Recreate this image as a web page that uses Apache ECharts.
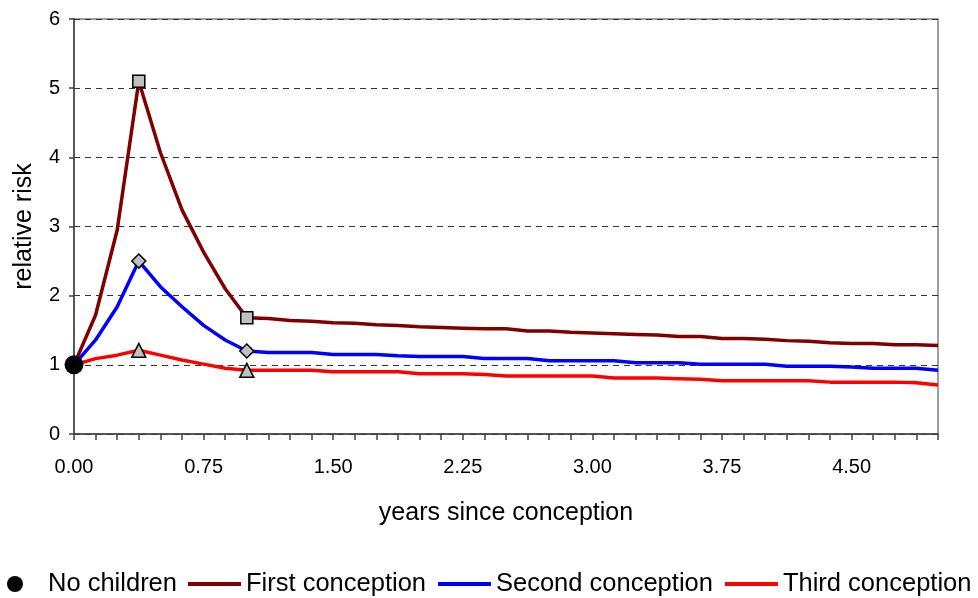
<!DOCTYPE html>
<html>
<head>
<meta charset="utf-8">
<script src="https://cdn.jsdelivr.net/npm/echarts@6/dist/echarts.min.js"></script>
<style>
html,body{margin:0;padding:0;background:#fff;}
#chart{width:978px;height:598px;}
</style>
</head>
<body>
<div id="chart"></div>
<script>
// years since conception (category positions)
var years = [0, 0.125, 0.25, 0.375, 0.5, 0.625, 0.75, 0.875, 1, 1.125,
  1.25, 1.375, 1.5, 1.625, 1.75, 1.875, 2, 2.125, 2.25, 2.375,
  2.5, 2.625, 2.75, 2.875, 3, 3.125, 3.25, 3.375, 3.5, 3.625,
  3.75, 3.875, 4, 4.125, 4.25, 4.375, 4.5, 4.625, 4.75, 4.875, 5];

var firstConception = [1.00, 1.72, 2.95, 5.10, 4.07, 3.24, 2.63, 2.10, 1.68, 1.67,
  1.64, 1.63, 1.61, 1.60, 1.58, 1.57, 1.55, 1.54, 1.53, 1.52,
  1.52, 1.49, 1.49, 1.47, 1.46, 1.45, 1.44, 1.43, 1.41, 1.41,
  1.38, 1.38, 1.37, 1.35, 1.34, 1.32, 1.31, 1.31, 1.29, 1.29, 1.28];

var secondConception = [1.00, 1.36, 1.84, 2.50, 2.13, 1.84, 1.57, 1.36, 1.20, 1.18,
  1.18, 1.18, 1.15, 1.15, 1.15, 1.13, 1.12, 1.12, 1.12, 1.09,
  1.09, 1.09, 1.06, 1.06, 1.06, 1.06, 1.03, 1.03, 1.03, 1.01,
  1.01, 1.01, 1.01, 0.98, 0.98, 0.98, 0.97, 0.95, 0.95, 0.95, 0.92];

var thirdConception = [1.00, 1.09, 1.14, 1.21, 1.14, 1.07, 1.01, 0.95, 0.92, 0.92,
  0.92, 0.92, 0.90, 0.90, 0.90, 0.90, 0.87, 0.87, 0.87, 0.86,
  0.84, 0.84, 0.84, 0.84, 0.84, 0.81, 0.81, 0.81, 0.80, 0.79,
  0.77, 0.77, 0.77, 0.77, 0.77, 0.75, 0.75, 0.75, 0.75, 0.74, 0.71];

var noChildren = [1.00];          // value at year 0
var markerIndices = [3, 8];       // points carrying a marker
var yTicks = [0, 1, 2, 3, 4, 5, 6];

var FONT = '"Liberation Sans", Arial, sans-serif';

function markerSize(size) {
  return function (val, params) {
    return markerIndices.indexOf(params.dataIndex) >= 0 ? size : 0;
  };
}

function lineSeries(name, data, color, symbol, size) {
  return {
    name: name,
    type: 'line',
    data: data,
    smooth: false,
    symbol: symbol,
    symbolSize: markerSize(size),
    showSymbol: true,
    showAllSymbol: true,
    lineStyle: { color: color, width: 3.5 },
    itemStyle: { color: '#C0C0C0', borderColor: '#000', borderWidth: 1.5 },
    emphasis: { disabled: true },
    animation: false,
    z: 2
  };
}

function legendLine(name, color) {
  return { name: name, icon: 'rect', itemStyle: { color: color, borderWidth: 0 } };
}

var chart = echarts.init(document.getElementById('chart'), null, { renderer: 'canvas' });

chart.setOption({
  backgroundColor: '#ffffff',
  animation: false,
  grid: {
    left: 74, right: 40, top: 19, bottom: 164,
    show: true, borderColor: '#808080', borderWidth: 1.5, backgroundColor: 'transparent'
  },
  legend: [
    {
      data: [{ name: 'No children', icon: 'circle', itemStyle: { color: '#000', opacity: 1 } }],
      left: 2, top: 566,
      itemWidth: 16, itemHeight: 16,
      textStyle: { fontFamily: FONT, fontSize: 25.5, color: '#000', padding: [0, 0, 0, 20] },
      selectedMode: false
    },
    {
      data: [
        legendLine('First conception', '#800000'),
        legendLine('Second conception', '#0000FF'),
        legendLine('Third conception', '#FF0000')
      ],
      left: 183, top: 566, width: 795,
      orient: 'horizontal',
      itemWidth: 53, itemHeight: 4, itemGap: 12,
      textStyle: { fontFamily: FONT, fontSize: 25.5, color: '#000' },
      selectedMode: false
    }
  ],
  xAxis: {
    type: 'category',
    data: years,
    boundaryGap: false,
    name: 'years since conception',
    nameLocation: 'middle',
    nameGap: 67,
    nameTextStyle: { fontFamily: FONT, fontSize: 25, color: '#000' },
    axisLine: { show: true, lineStyle: { color: '#404040', width: 1.5 } },
    axisTick: { show: true, interval: 0, length: 6, inside: false, lineStyle: { color: '#404040', width: 1.5 } },
    axisLabel: {
      interval: 5,
      margin: 23,
      fontFamily: FONT, fontSize: 20, color: '#000',
      formatter: function (v) { return Number(v).toFixed(2); }
    },
    splitLine: { show: false }
  },
  yAxis: {
    type: 'value',
    min: yTicks[0], max: yTicks[yTicks.length - 1], interval: 1,
    name: 'relative risk',
    nameLocation: 'middle',
    nameRotate: 90,
    nameGap: 37,
    nameTextStyle: { fontFamily: FONT, fontSize: 25, color: '#000' },
    axisLine: { show: true, lineStyle: { color: '#404040', width: 1.5 } },
    axisTick: { show: true, length: 5, lineStyle: { color: '#404040', width: 1.5 } },
    axisLabel: { margin: 14, fontFamily: FONT, fontSize: 20, color: '#000' },
    splitLine: { show: true, lineStyle: { color: '#333333', width: 1.2, type: [6, 5] } }
  },
  series: [
    lineSeries('First conception', firstConception, '#800000', 'rect', 12),
    lineSeries('Second conception', secondConception, '#0000FF', 'diamond', 14),
    lineSeries('Third conception', thirdConception, '#FF0000', 'triangle', 14),
    {
      name: 'No children',
      type: 'scatter',
      data: [[0, noChildren[0]]],
      symbol: 'circle',
      symbolSize: 19,
      itemStyle: { color: '#000000', opacity: 1 },
      emphasis: { disabled: true },
      z: 5
    }
  ]
});
</script>
</body>
</html>
